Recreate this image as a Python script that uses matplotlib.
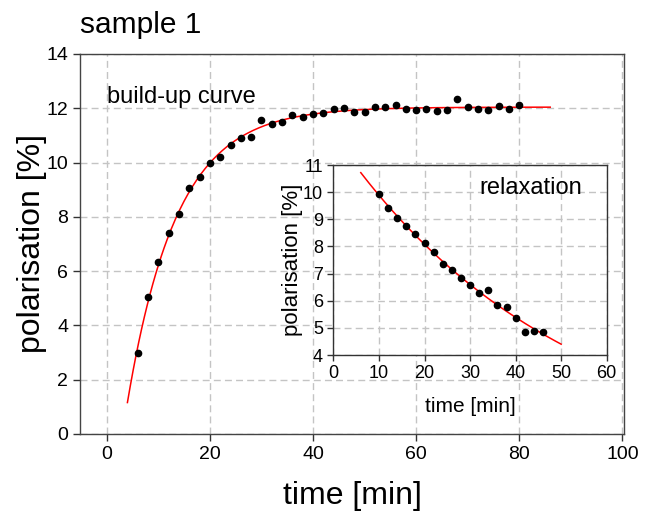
import numpy as np
import matplotlib
matplotlib.use("Agg")
from matplotlib import pyplot as plt

plt.rcParams['font.family'] = ['Liberation Sans', 'DejaVu Sans']

# build-up data (time in min, polarisation in %)
t_build = [6, 8, 10, 12, 14, 16, 18, 20, 22, 24, 26, 28, 30, 32, 34, 36, 38, 40,
           42, 44, 46, 48, 50, 52, 54, 56, 58, 60, 62, 64, 66, 68, 70, 72, 74, 76, 78, 80]
p_build = [3.00, 5.04, 6.35, 7.39, 8.09, 9.05, 9.48, 10.00, 10.19, 10.64, 10.89, 10.93,
           11.55, 11.41, 11.48, 11.75, 11.67, 11.78, 11.84, 11.97, 12.00, 11.86, 11.88,
           12.04, 12.06, 12.11, 11.96, 11.93, 11.97, 11.90, 11.94, 12.34, 12.04, 11.99,
           11.95, 12.08, 11.99, 12.11]

# relaxation data
t_relax = [10, 12, 14, 16, 18, 20, 22, 24, 26, 28, 30, 32, 34, 36, 38, 40, 42, 44, 46]
p_relax = [9.95, 9.40, 9.05, 8.74, 8.47, 8.13, 7.80, 7.34, 7.14, 6.82, 6.59, 6.29,
           6.40, 5.86, 5.76, 5.36, 4.86, 4.90, 4.83]

t_build = np.array(t_build, float)
p_build = np.array(p_build, float)
t_relax = np.array(t_relax, float)
p_relax = np.array(p_relax, float)

# fit build-up: p = A - B*exp(-t/tau)
best = None
for tau in np.linspace(3, 30, 2701):
    M = np.column_stack([np.ones_like(t_build), np.exp(-t_build / tau)])
    coef = np.linalg.lstsq(M, p_build, rcond=None)[0]
    err = np.sum((M @ coef - p_build) ** 2)
    if best is None or err < best[0]:
        best = (err, tau, coef)
_, tau_b, (A_b, B_b) = best
tf_b = np.linspace(4, 86, 300)
pf_b = A_b + B_b * np.exp(-tf_b / tau_b)

# fit relaxation: p = A*exp(-t/tau), least squares on linear scale
best = None
for tau in np.linspace(20, 100, 8001):
    e = np.exp(-t_relax / tau)
    A = np.sum(e * p_relax) / np.sum(e * e)
    err = np.sum((A * e - p_relax) ** 2)
    if best is None or err < best[0]:
        best = (err, tau, A)
_, tau_r, A_r = best
tf_r = np.linspace(6, 50, 200)
pf_r = A_r * np.exp(-tf_r / tau_r)

fig = plt.figure(figsize=(6.45, 5.21), dpi=100)
ax = fig.add_axes([0.124, 0.167, 0.8434, 0.7294])

grid_kw = dict(color='#c4c4c4', linestyle=(0, (5, 3)), linewidth=1.0)
ax.set_xlim(-5.2, 100.3)
ax.set_ylim(0, 14)
ax.set_xticks(np.arange(0, 101, 20))
ax.set_yticks(np.arange(0, 15, 2))
ax.grid(True, **grid_kw)
ax.set_axisbelow(True)
ax.tick_params(direction='out', length=5, width=1, labelsize=14, colors='#333333', labelcolor='black')
for s in ax.spines.values():
    s.set_color('#444444')
    s.set_linewidth(1.0)

ax.plot(tf_b, pf_b, color='red', linewidth=1.1, zorder=3)
ax.plot(t_build, p_build, 'o', color='black', markersize=4.5, zorder=4)

ax.set_xlabel('time [min]', fontsize=23)
ax.set_ylabel('polarisation [%]', fontsize=23)
ax.xaxis.set_label_coords(0.5, -0.125)
ax.yaxis.set_label_coords(-0.06, 0.5)
ax.text(0, 12.2, 'build-up curve', fontsize=17, ha='left', va='baseline')
fig.text(0.124, 0.937, 'sample 1', fontsize=21.5, ha='left', va='baseline')

# inset with relaxation
ins = fig.add_axes([0.517, 0.3186, 0.4236, 0.3647])
ins.set_facecolor('white')
ins.set_xlim(0, 60)
ins.set_ylim(4, 11)
ins.set_xticks(np.arange(0, 61, 10))
ins.set_yticks(np.arange(4, 12, 1))
ins.grid(True, **grid_kw)
ins.set_axisbelow(True)
ins.tick_params(direction='out', length=4, width=1, labelsize=13, colors='#333333', labelcolor='black')
for s in ins.spines.values():
    s.set_color('#333333')
    s.set_linewidth(1.0)

ins.plot(tf_r, pf_r, color='red', linewidth=1.1, zorder=3)
ins.plot(t_relax, p_relax, 'o', color='black', markersize=4.5, zorder=4)
ins.set_xlabel('time [min]', fontsize=15)
ins.set_ylabel('polarisation [%]', fontsize=16)
ins.xaxis.set_label_coords(0.5, -0.221)
ins.yaxis.set_label_coords(-0.112, 0.5)
ins.text(54.6, 9.93, 'relaxation', fontsize=17, ha='right', va='baseline')

fig.savefig('out.png', dpi=100)
